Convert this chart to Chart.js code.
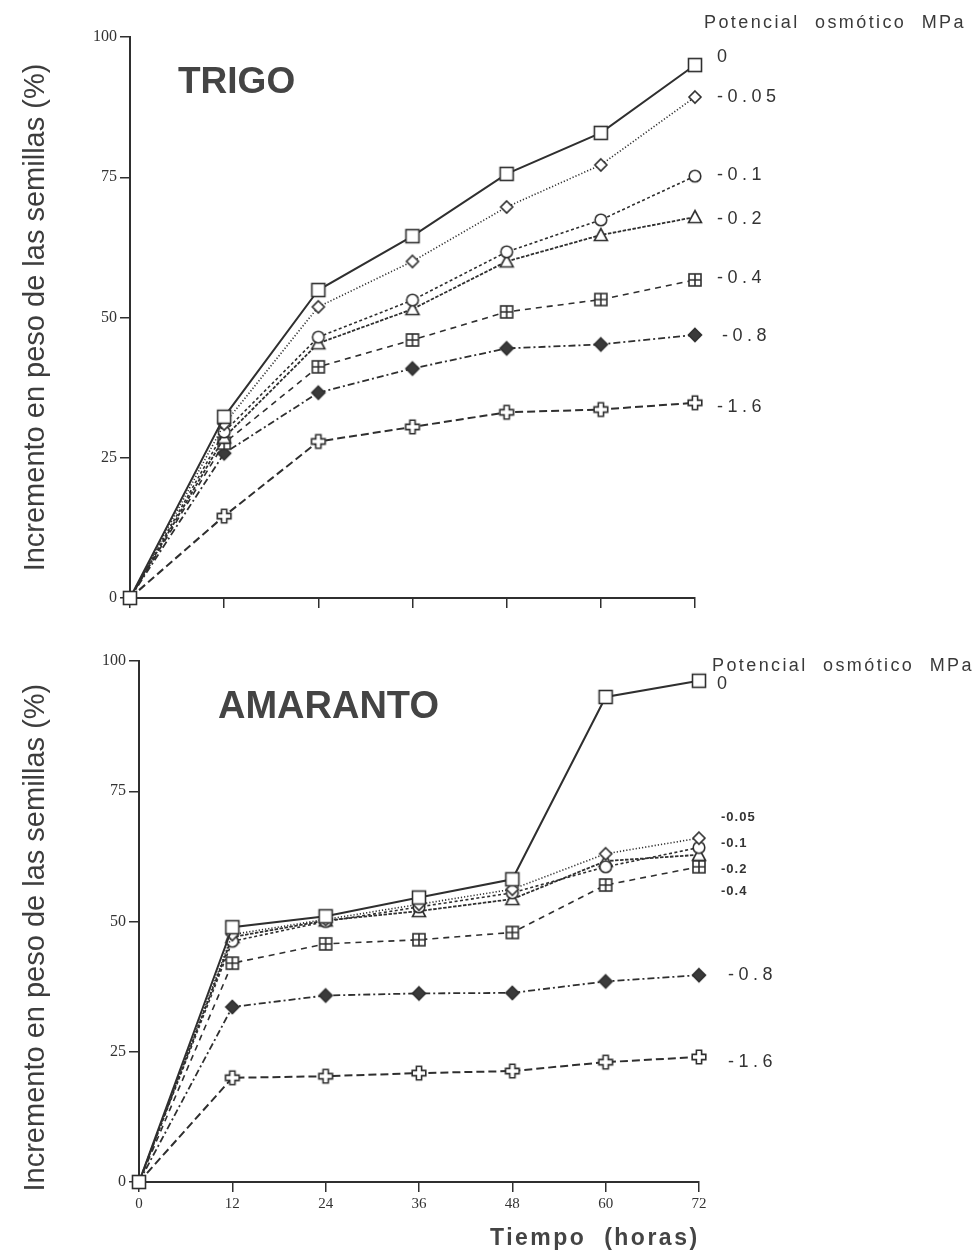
<!DOCTYPE html>
<html lang="es">
<head>
<meta charset="utf-8">
<title>Incremento en peso de las semillas - Trigo y Amaranto</title>
<script src="https://cdn.jsdelivr.net/npm/chart.js@4.4.1/dist/chart.umd.min.js"></script>
<style>
  html, body { margin: 0; padding: 0; background: #fff; }
  body { width: 979px; height: 1259px; position: relative; overflow: hidden;
         font-family: "Liberation Sans", Arial, sans-serif; color: #3a3a3a; }
  canvas { position: absolute; left: 0; }
  #trigo { top: 0; }
  #amaranto { top: 620px; }
  .txt { position: absolute; white-space: pre; line-height: 1; }
  .big { font-weight: bold; color: #444; }
  .pot { font-size: 18px; letter-spacing: 2.4px; word-spacing: 8px; }
</style>
</head>
<body>
<canvas id="trigo" width="979" height="620"></canvas>
<canvas id="amaranto" width="979" height="639"></canvas>

<div class="txt big" style="left:178px; top:62px; font-size:37px;">TRIGO</div>
<div class="txt big" style="left:218px; top:686px; font-size:38px;">AMARANTO</div>
<div class="txt pot" style="left:704px; top:13px;">Potencial osmótico MPa</div>
<div class="txt pot" style="left:712px; top:656px;">Potencial osmótico MPa</div>
<div class="txt big" style="left:490px; top:1226px; font-size:23px; letter-spacing:2.5px;">Tiempo  (horas)</div>

<script>
// datos
var hours = [0, 12, 24, 36, 48, 60, 72];
var potentials = ["0", "-0.05", "-0.1", "-0.2", "-0.4", "-0.8", "-1.6"];
var yTicks = [0, 25, 50, 75, 100];

// TRIGO
var trigo0   = [0, 32.3, 54.9, 64.5, 75.6, 82.9, 95.0];
var trigo005 = [0, 31.0, 51.9, 60.0, 69.7, 77.2, 89.3];
var trigo01  = [0, 29.6, 46.5, 53.1, 61.7, 67.4, 75.2];
var trigo02  = [0, 28.6, 45.4, 51.5, 60.0, 64.7, 67.9];
var trigo04  = [0, 27.6, 41.2, 46.0, 51.0, 53.2, 56.7];
var trigo08  = [0, 25.8, 36.6, 40.9, 44.5, 45.2, 46.9];
var trigo16  = [0, 14.6, 27.9, 30.5, 33.1, 33.6, 34.8];

// AMARANTO
var ama0   = [0, 48.9, 51.0, 54.6, 58.1, 93.1, 96.2];
var ama005 = [0, 47.5, 50.4, 53.3, 56.2, 63.0, 66.0];
var ama01  = [0, 46.2, 50.0, 52.8, 55.5, 60.5, 64.2];
var ama02  = [0, 47.0, 50.2, 52.0, 54.3, 61.6, 62.8];
var ama04  = [0, 42.0, 45.7, 46.5, 47.9, 57.0, 60.5];
var ama08  = [0, 33.6, 35.8, 36.2, 36.3, 38.5, 39.7];
var ama16  = [0, 20.0, 20.3, 20.9, 21.3, 23.0, 24.0];

var INK = "#2f2f2f";
var YTITLE = "Incremento en peso de las semillas (%)";

// marcadores dibujados a mano (canvas)
function marker(draw) {
  var c = document.createElement("canvas");
  c.width = 18; c.height = 18;
  var g = c.getContext("2d");
  g.translate(9, 9);
  g.strokeStyle = INK; g.fillStyle = "#fff"; g.lineWidth = 1.6;
  draw(g);
  return c;
}
function poly(g, pts) {
  g.beginPath();
  g.moveTo(pts[0][0], pts[0][1]);
  for (var i = 1; i < pts.length; i++) g.lineTo(pts[i][0], pts[i][1]);
  g.closePath();
}
var a = 2.6, e = 6.8;
var MARKS = [
  marker(function (g) { g.fillRect(-6.5, -6.5, 13, 13); g.strokeRect(-6.5, -6.5, 13, 13); }),
  marker(function (g) { poly(g, [[0, -6], [6, 0], [0, 6], [-6, 0]]); g.fill(); g.stroke(); }),
  marker(function (g) { g.beginPath(); g.arc(0, 0, 5.8, 0, Math.PI * 2); g.fill(); g.stroke(); }),
  marker(function (g) { poly(g, [[0, -6.5], [6.5, 5.5], [-6.5, 5.5]]); g.fill(); g.stroke(); }),
  marker(function (g) {
    g.fillRect(-6, -6, 12, 12); g.strokeRect(-6, -6, 12, 12);
    g.beginPath(); g.moveTo(0, -6); g.lineTo(0, 6); g.moveTo(-6, 0); g.lineTo(6, 0); g.stroke();
  }),
  marker(function (g) { g.fillStyle = "#3a3a3a"; poly(g, [[0, -6.5], [6.5, 0], [0, 6.5], [-6.5, 0]]); g.fill(); g.stroke(); }),
  marker(function (g) {
    poly(g, [[-a, -e], [a, -e], [a, -a], [e, -a], [e, a], [a, a], [a, e], [-a, e], [-a, a], [-e, a], [-e, -a], [-a, -a]]);
    g.fill(); g.stroke();
  })
];

// tipo de linea por serie
var LINES = [
  { w: 2.0, dash: [] },
  { w: 1.6, dash: [1.2, 2] },
  { w: 1.6, dash: [3, 2.5] },
  { w: 1.8, dash: [3.5, 1.5] },
  { w: 1.6, dash: [6, 5] },
  { w: 1.8, dash: [7, 3, 2, 3] },
  { w: 2.0, dash: [8, 4] }
];

function series(values, i) {
  return {
    label: potentials[i],
    data: values.map(function (v, k) { return { x: hours[k], y: v }; }),
    borderColor: INK,
    backgroundColor: INK,
    borderWidth: LINES[i].w,
    borderDash: LINES[i].dash,
    pointStyle: MARKS[i],
    pointRadius: function (c) { return c.dataIndex === 0 && i > 0 ? 0 : 6; },
    fill: false,
    tension: 0,
    clip: false
  };
}

// etiquetas al final de cada serie
function endLabels(styles) {
  return {
    id: "endLabels",
    afterDatasetsDraw: function (chart) {
      var ctx = chart.ctx;
      ctx.save();
      ctx.fillStyle = "#333";
      ctx.textBaseline = "middle";
      chart.data.datasets.forEach(function (ds, i) {
        var pts = chart.getDatasetMeta(i).data;
        var p = pts[pts.length - 1];
        var s = styles[i];
        ctx.font = s.font;
        ctx.letterSpacing = s.sp + "px";
        ctx.fillText(ds.label, p.x + s.dx, p.y + s.dy);
      });
      ctx.restore();
    }
  };
}
var F = "18px 'Liberation Sans', Arial, sans-serif";
var FS = "bold 13px 'Liberation Sans', Arial, sans-serif";
var trigoLabels = [
  { font: F, sp: 4.5, dx: 22, dy: -8 },
  { font: F, sp: 4.5, dx: 22, dy: 0 },
  { font: F, sp: 4.5, dx: 22, dy: -1 },
  { font: F, sp: 4.5, dx: 22, dy: 2 },
  { font: F, sp: 4.5, dx: 22, dy: -2 },
  { font: F, sp: 4.5, dx: 27, dy: 1 },
  { font: F, sp: 4.5, dx: 22, dy: 4 }
];
var amaLabels = [
  { font: F, sp: 4.5, dx: 18, dy: 3 },
  { font: FS, sp: 1, dx: 22, dy: -21 },
  { font: FS, sp: 1, dx: 22, dy: -4 },
  { font: FS, sp: 1, dx: 22, dy: 15 },
  { font: FS, sp: 1, dx: 22, dy: 25 },
  { font: F, sp: 4.5, dx: 29, dy: 0 },
  { font: F, sp: 4.5, dx: 29, dy: 5 }
];

function scales(opts) {
  var grid = { drawOnChartArea: false, color: INK, lineWidth: 1.5, tickLength: 10 };
  return {
    x: {
      type: "linear", min: 0, max: 72,
      afterBuildTicks: function (s) { s.ticks = hours.map(function (h) { return { value: h }; }); },
      ticks: {
        color: "#333", padding: 3,
        font: { family: "'Liberation Serif', 'Times New Roman', serif", size: 15 },
        callback: function (v) { return opts.showX ? String(v) : ""; }
      },
      grid: grid,
      border: { color: INK, width: 2 },
      afterFit: function (s) { s.height = opts.xHeight; }
    },
    y: {
      min: 0, max: 100,
      afterBuildTicks: function (s) { s.ticks = yTicks.map(function (t) { return { value: t }; }); },
      ticks: {
        color: "#333", padding: 3,
        font: { family: "'Liberation Serif', 'Times New Roman', serif", size: 16 }
      },
      grid: grid,
      border: { color: INK, width: 2 },
      title: {
        display: true, text: YTITLE + opts.titlePad, color: "#3d3d3d",
        font: { family: "'Liberation Sans', Arial, sans-serif", size: 29 },
        padding: { top: 19, bottom: 0 }
      },
      afterFit: function (s) { s.width = opts.yWidth; }
    }
  };
}

function makeChart(id, sets, labelStyles, opts) {
  return new Chart(document.getElementById(id), {
    type: "line",
    data: { datasets: sets.map(series) },
    options: {
      responsive: false,
      animation: false,
      events: [],
      layout: { padding: opts.padding },
      plugins: { legend: { display: false }, tooltip: { enabled: false } },
      scales: scales(opts)
    },
    plugins: [endLabels(labelStyles)]
  });
}

// grafico 1: TRIGO
makeChart("trigo",
  [trigo0, trigo005, trigo01, trigo02, trigo04, trigo08, trigo16],
  trigoLabels,
  { padding: { left: 0, right: 284, top: 37, bottom: 0 }, showX: false, yWidth: 130, xHeight: 22, titlePad: "" });

// grafico 2: AMARANTO
makeChart("amaranto",
  [ama0, ama005, ama01, ama02, ama04, ama08, ama16],
  amaLabels,
  { padding: { left: 0, right: 280, top: 41, bottom: 0 }, showX: true, yWidth: 139, xHeight: 77, titlePad: "    " });
</script>
</body>
</html>
